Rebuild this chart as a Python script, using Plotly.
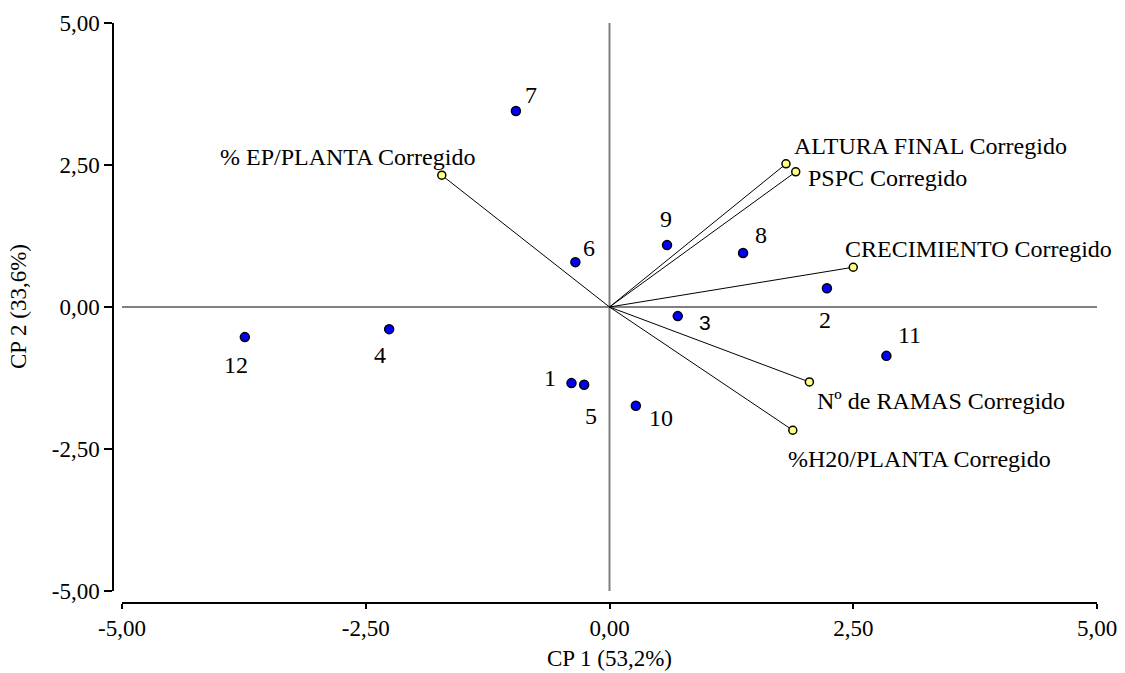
import plotly.graph_objects as go

# Observation scores (CP1, CP2)
obs_labels = ["1", "2", "3", "4", "5", "6", "7", "8", "9", "10", "11", "12"]
obs_cp1 = [-0.39, 2.23, 0.70, -2.26, -0.26, -0.35, -0.96, 1.37, 0.59, 0.27, 2.84, -3.74]
obs_cp2 = [-1.34, 0.33, -0.16, -0.39, -1.37, 0.79, 3.45, 0.95, 1.09, -1.74, -0.86, -0.53]

# Variable loadings (CP1, CP2)
var_labels = ["% EP/PLANTA Corregido", "ALTURA FINAL Corregido", "PSPC Corregido",
              "CRECIMIENTO Corregido", "Nº de RAMAS Corregido", "%H20/PLANTA Corregido"]
var_cp1 = [-1.72, 1.81, 1.91, 2.50, 2.05, 1.88]
var_cp2 = [2.32, 2.52, 2.38, 0.70, -1.32, -2.17]

tick_vals = [-5, -2.5, 0, 2.5, 5]
tick_text = ["-5,00", "-2,50", "0,00", "2,50", "5,00"]

x_title = "CP 1 (53,2%)"
y_title = "CP 2 (33,6%)"

SERIF = "Liberation Serif, Times New Roman, serif"
SANS = "Liberation Sans, Arial, sans-serif"
FS = 23
FS_LABEL = 24

# label placement: (xanchor, xshift, yshift, font family)
obs_place = {
    "1": ("right", -13, 5, SERIF),
    "2": ("center", -2, -32, SERIF),
    "3": ("left", 19, -6, SANS),
    "4": ("center", -9, -26, SERIF),
    "5": ("center", 7, -31, SERIF),
    "6": ("left", 6, 14, SERIF),
    "7": ("left", 7, 16, SERIF),
    "8": ("left", 10, 18, SERIF),
    "9": ("center", -1, 26, SERIF),
    "10": ("left", 11, -12, SERIF),
    "11": ("left", 10, 21, SERIF),
    "12": ("center", -9, -28, SERIF),
}
var_place = [
    ("center", -94, 18),
    ("left", 6, 18),
    ("left", 10, -6),
    ("left", -10, 18),
    ("left", 6, -19),
    ("left", -7, -29),
]

fig = go.Figure()

# reference lines through the origin
fig.add_shape(type="line", x0=0, x1=0, y0=-5, y1=5, xref="x", yref="y",
              line=dict(color="#808080", width=2), layer="below")
fig.add_shape(type="line", x0=-5, x1=5, y0=0, y1=0, xref="x", yref="y",
              line=dict(color="#808080", width=2), layer="below")

# loading vectors
for vx, vy in zip(var_cp1, var_cp2):
    fig.add_trace(go.Scatter(x=[0, vx], y=[0, vy], mode="lines",
                             line=dict(color="black", width=1),
                             hoverinfo="skip", showlegend=False))

fig.add_trace(go.Scatter(x=obs_cp1, y=obs_cp2, mode="markers",
                         marker=dict(color="#0000FF", size=9,
                                     line=dict(color="black", width=1.5)),
                         showlegend=False, text=obs_labels))
fig.add_trace(go.Scatter(x=var_cp1, y=var_cp2, mode="markers",
                         marker=dict(color="#FFFF80", size=8,
                                     line=dict(color="black", width=1.5)),
                         showlegend=False, text=var_labels))

annotations = []
for lab, x, y in zip(obs_labels, obs_cp1, obs_cp2):
    xa, xs, ys, fam = obs_place[lab]
    annotations.append(dict(x=x, y=y, xref="x", yref="y", text=lab, showarrow=False,
                            xanchor=xa, yanchor="middle", xshift=xs, yshift=ys,
                            font=dict(family=fam, size=FS_LABEL if fam == SERIF else 21,
                                      color="black")))
for lab, x, y, (xa, xs, ys) in zip(var_labels, var_cp1, var_cp2, var_place):
    annotations.append(dict(x=x, y=y, xref="x", yref="y", text=lab, showarrow=False,
                            xanchor=xa, yanchor="middle", xshift=xs, yshift=ys,
                            font=dict(family=SERIF, size=FS_LABEL, color="black")))

W, H = 1125, 673
ml, mr, mt, mb = 113, 28, 23, 70
plot_w = W - ml - mr
plot_h = H - mt - mb

# axis titles placed in paper coordinates
annotations.append(dict(x=(609 - ml) / plot_w, y=-55 / plot_h, xref="paper", yref="paper",
                        text=x_title, showarrow=False, xanchor="center", yanchor="middle",
                        font=dict(family=SERIF, size=FS, color="black")))
annotations.append(dict(x=(18 - ml) / plot_w, y=(H - mb - 307) / plot_h,
                        xref="paper", yref="paper", text=y_title, textangle=-90,
                        showarrow=False, xanchor="center", yanchor="middle",
                        font=dict(family=SERIF, size=FS, color="black")))

fig.update_layout(
    width=W, height=H,
    margin=dict(l=ml, r=mr, t=mt, b=mb, pad=0, autoexpand=False),
    paper_bgcolor="white", plot_bgcolor="white",
    annotations=annotations,
    font=dict(family=SERIF, size=FS, color="black"),
    xaxis=dict(range=[-5, 5], domain=[9 / plot_w, 1], anchor="free", position=0,
               tickvals=tick_vals, ticktext=tick_text, automargin=False,
               showline=True, linecolor="black", linewidth=1.5,
               ticks="outside", ticklen=5, tickwidth=1.5, tickcolor="black",
               showgrid=False, zeroline=False),
    yaxis=dict(range=[-5, 5], domain=[12 / plot_h, 1], anchor="free", position=0,
               tickvals=tick_vals, ticktext=tick_text, automargin=False,
               showline=True, linecolor="black", linewidth=1.5,
               ticks="outside", ticklen=8, tickwidth=1.5, tickcolor="black",
               showgrid=False, zeroline=False),
)

fig.write_html("out.html")
